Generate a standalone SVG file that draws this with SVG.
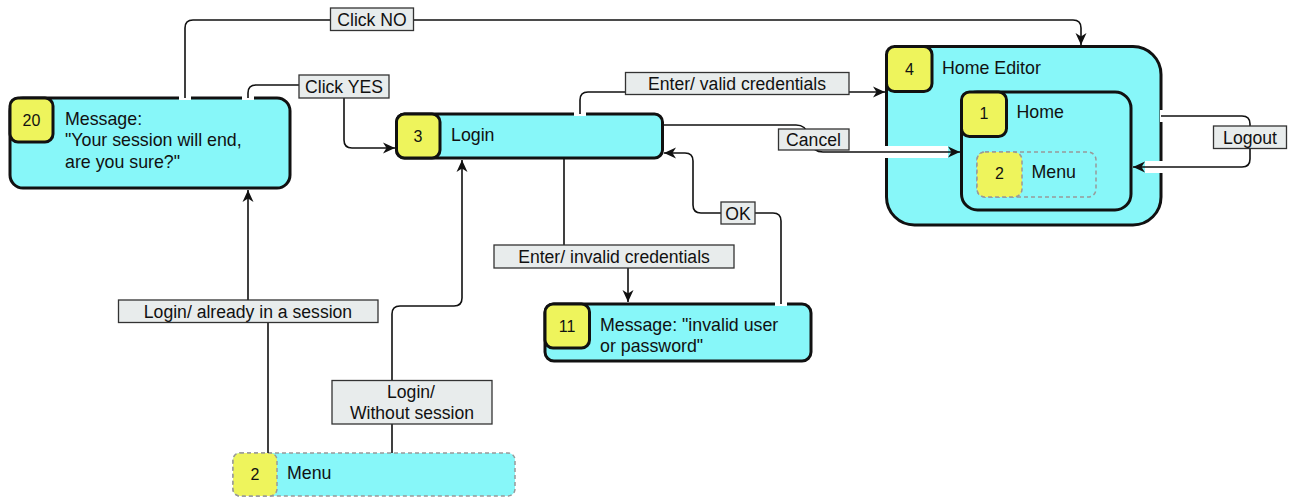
<svg xmlns="http://www.w3.org/2000/svg" width="1292" height="497" viewBox="0 0 1292 497">
  <defs>
    <marker id="arrow" markerUnits="userSpaceOnUse" markerWidth="14" markerHeight="12" refX="12" refY="6" orient="auto">
      <path d="M0,0.5 L12,6 L0,11.5 L3.5,6 z" fill="#111"/>
    </marker>
    <style>
      .state { fill: #87f7f9; stroke: #111; stroke-width: 3; }
      .badge { fill: #eef45c; stroke: #111; stroke-width: 3; }
      .ghost { fill: #87f7f9; stroke: #999; stroke-width: 1.5; stroke-dasharray: 4 3; }
      .ghost-badge { fill: #eef45c; stroke: #999; stroke-width: 1.5; stroke-dasharray: 4 3; }
      .title { font-family: "Liberation Sans", Arial, sans-serif; font-size: 17.8px; fill: #111; }
      .num { font-family: "Liberation Sans", Arial, sans-serif; font-size: 16px; fill: #111; text-anchor: middle; }
      .halo { fill: none; stroke: #fff; stroke-width: 12; }
      .wire { fill: none; stroke: #111; stroke-width: 1.6; }
      .tag rect { fill: #e8ecec; stroke: #333; stroke-width: 1.3; }
      .tag text { font-family: "Liberation Sans", Arial, sans-serif; font-size: 17.6px; fill: #111; text-anchor: middle; }
    </style>
  </defs>
  <rect width="1292" height="497" fill="#fff"/>

  <!-- states -->
  <g id="node-20">
    <rect class="state" x="10" y="98" width="280" height="90" rx="13"/>
    <rect class="badge" x="10" y="98" width="43" height="44" rx="8"/>
    <text class="num" x="31.5" y="125.5">20</text>
    <text class="title" x="65" y="124.5">Message:</text>
    <text class="title" x="65" y="146">"Your session will end,</text>
    <text class="title" x="65" y="167.5">are you sure?"</text>
  </g>

  <g id="node-3">
    <rect class="state" x="396.5" y="114" width="266" height="44" rx="8"/>
    <rect class="badge" x="396.5" y="114" width="43.5" height="44" rx="8"/>
    <text class="num" x="418" y="141.5">3</text>
    <text class="title" x="451" y="141">Login</text>
  </g>

  <g id="node-4">
    <rect class="state" x="886.5" y="46.5" width="274.5" height="178.5" rx="28"/>
    <rect class="badge" x="886.5" y="46.5" width="45.5" height="45" rx="8"/>
    <text class="num" x="909.5" y="74.5">4</text>
    <text class="title" x="942" y="74">Home Editor</text>
  </g>

  <g id="node-1">
    <rect class="state" x="961.5" y="92" width="169.5" height="118" rx="16"/>
    <rect class="badge" x="961.5" y="92" width="45" height="44.5" rx="8"/>
    <text class="num" x="984" y="119">1</text>
    <text class="title" x="1016.5" y="118">Home</text>
  </g>

  <g id="node-2-home">
    <rect class="ghost" x="977" y="152" width="119" height="45" rx="8"/>
    <rect class="ghost-badge" x="977" y="152" width="45" height="45" rx="8"/>
    <text class="num" x="999.5" y="179">2</text>
    <text class="title" x="1031.5" y="178">Menu</text>
  </g>

  <g id="node-11">
    <rect class="state" x="545" y="304" width="266" height="57" rx="9"/>
    <rect class="badge" x="545" y="304" width="44.5" height="44" rx="8"/>
    <text class="num" x="567" y="331.5">11</text>
    <text class="title" x="600" y="331">Message: "invalid user</text>
    <text class="title" x="600" y="352">or password"</text>
  </g>

  <g id="node-2-menu">
    <rect class="ghost" x="233" y="453" width="282" height="43" rx="7"/>
    <rect class="ghost-badge" x="233" y="453" width="44" height="43" rx="7"/>
    <text class="num" x="255" y="480">2</text>
    <text class="title" x="287" y="478.5">Menu</text>
  </g>

  <!-- transitions -->
  <g id="connectors">
    <path class="halo" d="M185,100 V28 Q185,20 193,20 H1073 Q1081,20 1081,28 V32"/>
    <path class="wire" d="M185,98 V28 Q185,20 193,20 H1073 Q1081,20 1081,28 V45" marker-end="url(#arrow)"/>

    <path class="halo" d="M248,100 V93 Q248,85 256,85 H336 Q344,85 344,93 V140 Q344,148 352,148 H383"/>
    <path class="wire" d="M248,98 V93 Q248,85 256,85 H336 Q344,85 344,93 V140 Q344,148 352,148 H395" marker-end="url(#arrow)"/>

    <path class="halo" d="M580,116 V100 Q580,92 588,92 H872"/>
    <path class="wire" d="M580,114 V100 Q580,92 588,92 H885" marker-end="url(#arrow)"/>

    <path class="halo" d="M664,125 H796 Q806,125 808,135 L811,143 Q813,152 823,152 H948"/>
    <path class="wire" d="M663,125 H796 Q806,125 808,135 L811,143 Q813,152 823,152 H960" marker-end="url(#arrow)"/>

    <path class="halo" d="M1160,116 H1242 Q1250,116 1250,124 V159 Q1250,167 1242,167 H1145"/>
    <path class="wire" d="M1161,116 H1242 Q1250,116 1250,124 V159 Q1250,167 1242,167 H1133" marker-end="url(#arrow)"/>

    <path class="halo" d="M781,306 V221 Q781,213 773,213 H701 Q693,213 693,205 V161 Q693,153 685,153 H676"/>
    <path class="wire" d="M781,304 V221 Q781,213 773,213 H701 Q693,213 693,205 V161 Q693,153 685,153 H664" marker-end="url(#arrow)"/>

    <path class="wire" d="M564,158 V250 Q564,256 572,256 H620 Q628,256 628,264 V302" marker-end="url(#arrow)"/>

    <path class="wire" d="M268,453 V320 Q268,311 258,311 H256 Q248,311 248,303 V190" marker-end="url(#arrow)"/>

    <path class="wire" d="M392,453 V314 Q392,306 400,306 H454 Q462,306 462,298 V160" marker-end="url(#arrow)"/>
  </g>

  <!-- transition labels -->
  <g id="labels">
    <g class="tag"><rect x="330.5" y="8" width="83" height="22.5"/><text x="372" y="25.5">Click NO</text></g>
    <g class="tag"><rect x="299" y="75" width="90" height="23"/><text x="344" y="92.5">Click YES</text></g>
    <g class="tag"><rect x="625.5" y="72.5" width="223.5" height="22"/><text x="737" y="89.5">Enter/ valid credentials</text></g>
    <g class="tag"><rect x="778.5" y="129" width="70.5" height="21"/><text x="813.5" y="145.5">Cancel</text></g>
    <g class="tag"><rect x="1213.5" y="126" width="73" height="22.5"/><text x="1250" y="143.5">Logout</text></g>
    <g class="tag"><rect x="721" y="202" width="34" height="22"/><text x="738" y="219.5">OK</text></g>
    <g class="tag"><rect x="494" y="245" width="240" height="23"/><text x="614" y="262.5">Enter/ invalid credentials</text></g>
    <g class="tag"><rect x="118.5" y="300" width="259.5" height="22.5"/><text x="248" y="317.5">Login/ already in a session</text></g>
    <g class="tag"><rect x="332" y="380.5" width="160" height="43.5"/><text x="411" y="397.5">Login/</text><text x="412" y="418.5">Without session</text></g>
  </g>
</svg>
